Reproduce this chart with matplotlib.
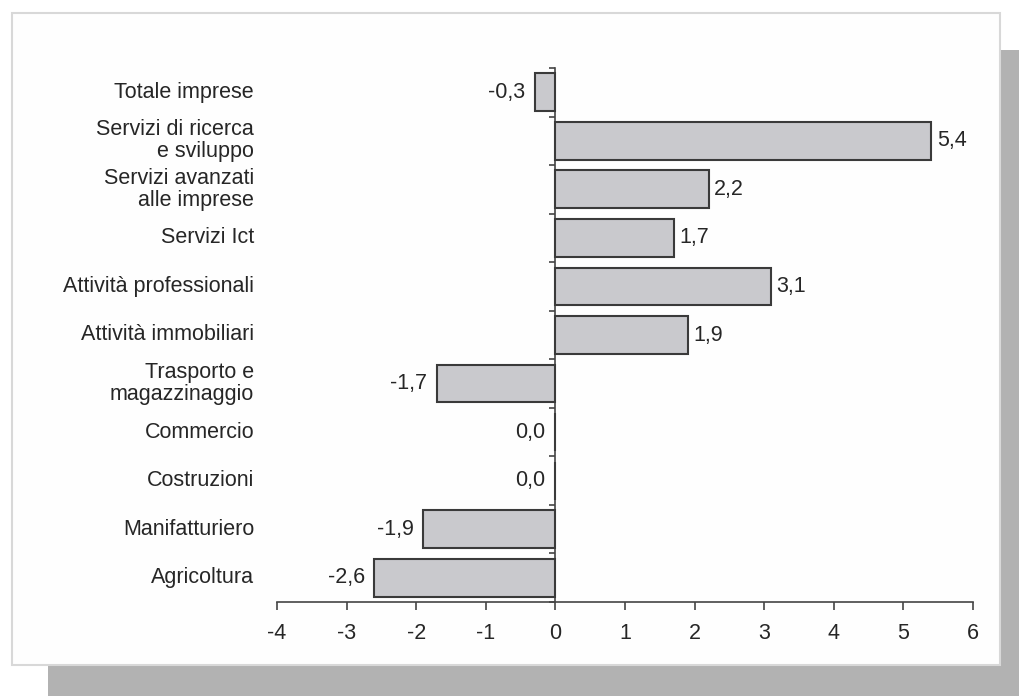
import matplotlib
matplotlib.use("Agg")
import matplotlib.pyplot as plt
import numpy as np
from matplotlib.patches import Rectangle

categories = ["Totale imprese", "Servizi di ricerca\ne sviluppo", "Servizi avanzati\nalle imprese",
              "Servizi Ict", "Attività professionali", "Attività immobiliari",
              "Trasporto e\nmagazzinaggio", "Commercio", "Costruzioni", "Manifatturiero", "Agricoltura"]
values = [-0.3, 5.4, 2.2, 1.7, 3.1, 1.9, -1.7, 0.0, 0.0, -1.9, -2.6]
value_labels = ["-0,3", "5,4", "2,2", "1,7", "3,1", "1,9", "-1,7", "0,0", "0,0", "-1,9", "-2,6"]
xticks = [-4, -3, -2, -1, 0, 1, 2, 3, 4, 5, 6]

plt.rcParams['font.family'] = ['Liberation Sans', 'DejaVu Sans']
FS = 15.5

W, H = 1020, 696
fig = plt.figure(figsize=(W / 100, H / 100), dpi=100)
fig.patch.set_facecolor("white")

def frac_rect(x0, y0, x1, y1, **kw):
    return Rectangle((x0 / W, 1 - y1 / H), (x1 - x0) / W, (y1 - y0) / H,
                     transform=fig.transFigure, **kw)

fig.patches.append(frac_rect(48, 50, 1020, 696, facecolor="#b2b2b2", edgecolor="none", zorder=0))
fig.patches.append(frac_rect(12, 13, 1000, 665, facecolor="#fefefe", edgecolor="#d8d8d8",
                             linewidth=1.5, zorder=1))

ax = fig.add_axes([277 / W, 1 - 602 / H, (973 - 277) / W, (602 - 68) / H])
ax.set_facecolor("none")
ax.set_zorder(2)

y = np.arange(len(categories))
ax.barh(y, values, height=0.78, color="#c9c9cd", edgecolor="#3a3a3a", linewidth=1.5, zorder=3)

ax.set_xlim(-4, 6)
ax.set_ylim(len(categories) - 0.5, -0.5)

for spine in ["top", "right"]:
    ax.spines[spine].set_visible(False)
ax.spines["left"].set_position(("data", 0))
for s in ["left", "bottom"]:
    ax.spines[s].set_color("#444444")
    ax.spines[s].set_linewidth(1.2)

ax.set_xticks(xticks)
ax.set_xticklabels([str(t) for t in xticks])
ax.tick_params(axis="x", direction="out", length=6, width=1.2, color="#444444",
               labelsize=FS, pad=9, labelcolor="#262626")
ax.set_yticks(np.arange(-0.5, len(categories) + 0.5, 1.0))
ax.set_yticklabels([])
ax.tick_params(axis="y", direction="out", length=4, width=1.2, color="#444444")

for i, (cat, v, lab) in enumerate(zip(categories, values, value_labels)):
    ax.text(-4.33, i, cat, ha="right", va="center", fontsize=FS, color="#262626",
            linespacing=1.08, clip_on=False)
    if v > 0:
        ax.text(v + 0.08, i, lab, ha="left", va="center", fontsize=FS, color="#262626")
    else:
        ax.text(v - 0.14, i, lab, ha="right", va="center", fontsize=FS, color="#262626")

fig.savefig("out.png", dpi=100, facecolor=fig.get_facecolor())
